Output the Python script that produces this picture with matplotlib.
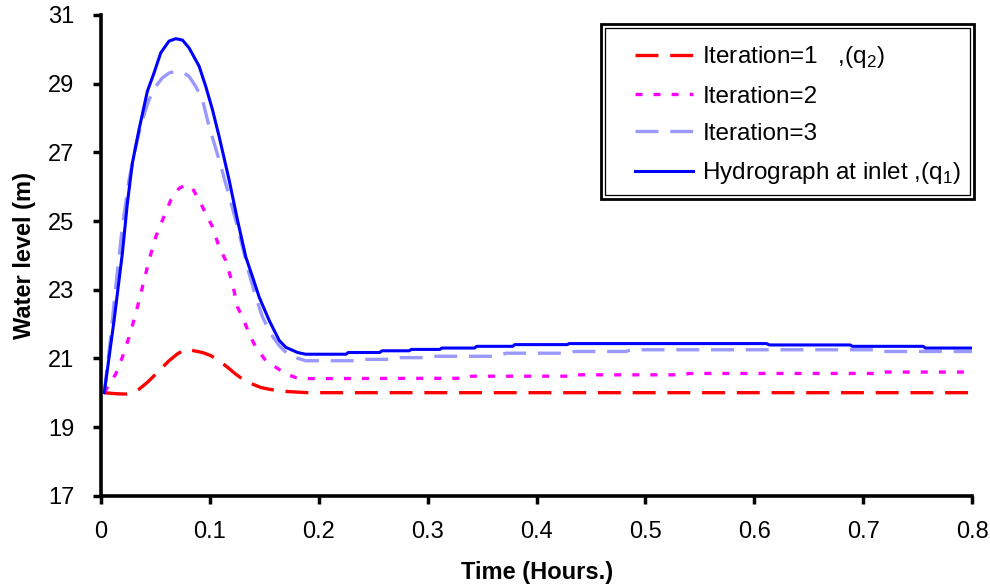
import matplotlib
matplotlib.use("Agg")
import matplotlib.pyplot as plt
from matplotlib.patches import Rectangle

# iteration 1, (q2)
t_it1 = [0.003, 0.0135, 0.0227, 0.0288, 0.0349, 0.0426, 0.0503, 0.0564, 0.0625,
         0.0702, 0.0779, 0.0855, 0.0932, 0.1008, 0.1085, 0.1162, 0.1238,
         0.1315, 0.1392, 0.1468, 0.1545, 0.1637, 0.1729, 0.19, 0.8]
h_it1 = [20.0, 19.97, 19.96, 20.0, 20.10, 20.30, 20.54, 20.74, 20.93,
         21.13, 21.27, 21.22, 21.17, 21.08, 20.93, 20.74, 20.54,
         20.36, 20.25, 20.15, 20.10, 20.05, 20.03, 20.0, 20.0]

# iteration 2
t_it2 = [0.003, 0.0135, 0.0196, 0.0257, 0.0319, 0.0380, 0.0441, 0.0503, 0.0564,
         0.0641, 0.0717, 0.0779, 0.0840, 0.0901, 0.0962, 0.1024, 0.1085,
         0.1146, 0.1208, 0.1254, 0.1300, 0.1361, 0.1422, 0.1514, 0.1606,
         0.1698, 0.1790, 0.1913,
         0.335, 0.34, 0.433, 0.437, 0.535, 0.54, 0.715, 0.72, 0.8]
h_it2 = [20.0, 20.54, 21.03, 21.61, 22.30, 23.07, 23.85, 24.54, 25.02,
         25.61, 25.95, 26.05, 25.95, 25.61, 25.22, 24.83, 24.24,
         23.85, 23.17, 22.49, 22.20, 21.71, 21.32, 20.93, 20.74,
         20.54, 20.44, 20.41,
         20.42, 20.48, 20.48, 20.52, 20.52, 20.56, 20.56, 20.60, 20.60]

# iteration 3
t_it3 = [0.003, 0.0089, 0.0135, 0.0196, 0.0257, 0.0319, 0.0380, 0.0441, 0.0503,
         0.0564, 0.0625, 0.0687, 0.0763, 0.0809, 0.0870, 0.0932, 0.0993,
         0.1085, 0.1162, 0.1238, 0.1300, 0.1361, 0.1422, 0.1484, 0.1560,
         0.1637, 0.1729, 0.188,
         0.235, 0.24, 0.27, 0.275, 0.30, 0.305, 0.364, 0.372, 0.428, 0.435,
         0.482, 0.487, 0.715, 0.718, 0.8]
h_it3 = [20.0, 21.61, 23.07, 24.83, 26.19, 27.17, 27.95, 28.53, 28.92,
         29.17, 29.31, 29.36, 29.31, 29.21, 28.92, 28.53, 27.75,
         26.78, 25.90, 25.02, 24.24, 23.46, 22.78, 22.20, 21.71,
         21.37, 21.08, 20.93,
         20.93, 20.97, 20.97, 21.02, 21.02, 21.06, 21.06, 21.15, 21.15, 21.20,
         21.20, 21.25, 21.25, 21.20, 21.20]

# hydrograph at inlet, (q1)
t_in = [0.003, 0.012, 0.0196, 0.0242, 0.0288, 0.0349, 0.0426, 0.0487, 0.0549,
        0.0625, 0.0687, 0.0748, 0.0809, 0.0901, 0.0962, 0.1024, 0.1085,
        0.1177, 0.1254, 0.1330, 0.1392, 0.1453, 0.1545, 0.1637, 0.1698,
        0.1805, 0.188,
        0.225, 0.227, 0.256, 0.258, 0.283, 0.285, 0.311, 0.313, 0.343, 0.345,
        0.378, 0.38, 0.428, 0.43, 0.611, 0.614, 0.688, 0.69, 0.755, 0.757, 0.8]
h_in = [20.0, 22.10, 24.05, 25.51, 26.68, 27.66, 28.78, 29.31, 29.90,
        30.24, 30.31, 30.27, 30.04, 29.51, 28.92, 28.24, 27.46,
        26.19, 25.02, 23.95, 23.37, 22.78, 22.10, 21.52, 21.32,
        21.17, 21.12,
        21.12, 21.17, 21.17, 21.22, 21.22, 21.26, 21.26, 21.30, 21.30, 21.35,
        21.35, 21.40, 21.40, 21.43, 21.43, 21.39, 21.39, 21.35, 21.35, 21.30, 21.30]

x_ticks = [0, 0.1, 0.2, 0.3, 0.4, 0.5, 0.6, 0.7, 0.8]
x_labels = ["0", "0.1", "0.2", "0.3", "0.4", "0.5", "0.6", "0.7", "0.8"]
y_ticks = [17, 19, 21, 23, 25, 27, 29, 31]

plt.rcParams["font.family"] = ["Liberation Sans", "DejaVu Sans"]
plt.rcParams["mathtext.fontset"] = "custom"
plt.rcParams["mathtext.rm"] = "Liberation Sans"
plt.rcParams["lines.scale_dashes"] = False

fig = plt.figure(figsize=(9.9, 5.88), dpi=100)
ax = fig.add_axes([0.102, 0.157, 0.880, 0.8175])

ax.plot(t_it1, h_it1, color="#ff0000", lw=2.4, dashes=(16.5, 8.5),
        dash_capstyle="butt", label=r"Iteration=1   ,(q$_\mathrm{2}$)")
ax.plot(t_it2, h_it2, color="#ff00ff", lw=2.4, dashes=(5, 8),
        dash_capstyle="butt", label="Iteration=2")
ax.plot(t_it3, h_it3, color="#9999ff", lw=2.4, dashes=(16.5, 8.5),
        dash_capstyle="butt", label="Iteration=3")
ax.plot(t_in, h_in, color="#0000ff", lw=2.2,
        label=r"Hydrograph at inlet ,(q$_\mathrm{1}$)")

ax.set_xlim(0, 0.8)
ax.set_ylim(17, 31)
ax.set_xticks(x_ticks)
ax.set_xticklabels(x_labels)
ax.set_yticks(y_ticks)

for side in ["top", "right"]:
    ax.spines[side].set_visible(False)
for side in ["left", "bottom"]:
    ax.spines[side].set_linewidth(2.6)
ax.tick_params(axis="both", direction="out", length=6, width=2.5,
               labelsize=17, color="black")
ax.tick_params(axis="x", pad=12)
ax.tick_params(axis="y", pad=13)

ax.set_xlabel("Time (Hours.)", fontsize=17, fontweight="bold", labelpad=13)
ax.set_ylabel("Water level (m)", fontsize=17, fontweight="bold", labelpad=9)

leg = ax.legend(loc="upper left", bbox_to_anchor=(0.613, 0.939), frameon=False,
                fontsize=17.5, borderpad=0, borderaxespad=0, handlelength=2.4,
                handletextpad=0.37, labelspacing=0.63)

# double frame round the legend
fig.add_artist(Rectangle((605 / 990, 1 - 195 / 588), 365 / 990, 167 / 588,
                         transform=fig.transFigure, fill=False, lw=0.9,
                         edgecolor="black"))
fig.add_artist(Rectangle((601 / 990, 1 - 199 / 588), 373 / 990, 175 / 588,
                         transform=fig.transFigure, fill=False, lw=2.0,
                         edgecolor="black"))

fig.savefig("out.png", dpi=100)
